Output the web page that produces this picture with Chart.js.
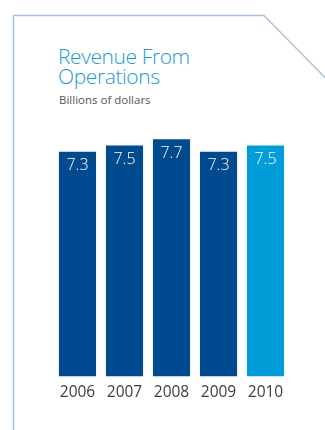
<!DOCTYPE html>
<html>
<head>
<meta charset="utf-8">
<script src="https://cdn.jsdelivr.net/npm/chart.js@4"></script>
<style>
  html, body { margin: 0; padding: 0; background: #fff; }
  #wrap { position: relative; width: 325px; height: 430px; overflow: hidden; }
  #frame { position: absolute; left: 0; top: 0; }
  #title { position: absolute; left: 58px; top: 47px; font-family: "Open Sans", sans-serif; font-weight: 300;
           font-size: 21px; line-height: 19.5px; color: #1a9ad6; letter-spacing: -0.4px; }
  #sub { position: absolute; left: 59px; top: 92px; font-family: "Open Sans", sans-serif;
         font-size: 11.5px; color: #555; }
  #chart { position: absolute; left: 0; top: 0; }
</style>
</head>
<body>
<div id="wrap">
  <svg id="frame" width="325" height="430">
    <polyline points="13.5,430 13.5,15.5 264,15.5 325,77.5" fill="none" stroke="#a9c1dd" stroke-width="1.5"/>
  </svg>
  <div id="title">Revenue From<br>Operations</div>
  <div id="sub">Billions of dollars</div>
  <canvas id="chart" width="325" height="430"></canvas>
</div>
<script>
// revenue, billions of dollars
const years = ['2006', '2007', '2008', '2009', '2010'];
const revenue = [7.3, 7.5, 7.7, 7.3, 7.5];
const barColors = ['#004a8f', '#004a8f', '#004a8f', '#004a8f', '#009dd9'];

// value printed just inside the top of each bar
const barValuePlugin = {
    id: 'barValue',
    afterDatasetsDraw: function (chart) {
        const ctx = chart.ctx;
        const meta = chart.getDatasetMeta(0);
        ctx.save();
        ctx.font = '300 16px "Open Sans", sans-serif';
        ctx.fillStyle = '#ffffff';
        ctx.textAlign = 'center';
        ctx.textBaseline = 'middle';
        meta.data.forEach((bar, i) => {
            ctx.fillText(revenue[i].toFixed(1), bar.x, bar.y + 14);
        });
        ctx.restore();
    }
};

const ctx = document.getElementById('chart').getContext('2d');
const revenueChart = new Chart(ctx, {
    type: 'bar',
    data: {
        labels: years,
        datasets: [{
            data: revenue,
            backgroundColor: barColors,
            borderWidth: 0,
            categoryPercentage: 1,
            barPercentage: 0.79
        }]
    },
    options: {
        responsive: false,
        animation: false,
        layout: {
            padding: { top: 68.5, left: 54, right: 36, bottom: 0 }
        },
        scales: {
            x: {
                grid: { display: false, drawTicks: false },
                border: { display: false },
                ticks: {
                    color: '#3d3d3d',
                    padding: 7,
                    font: { family: '"Open Sans", sans-serif', size: 15.5, weight: 'normal' }
                },
                afterFit: function (scale) {
                    scale.height = 53.5;
                }
            },
            y: {
                display: false,
                min: 0,
                max: 10
            }
        },
        plugins: {
            legend: { display: false },
            tooltip: { enabled: false }
        }
    },
    plugins: [barValuePlugin]
});
</script>
</body>
</html>
